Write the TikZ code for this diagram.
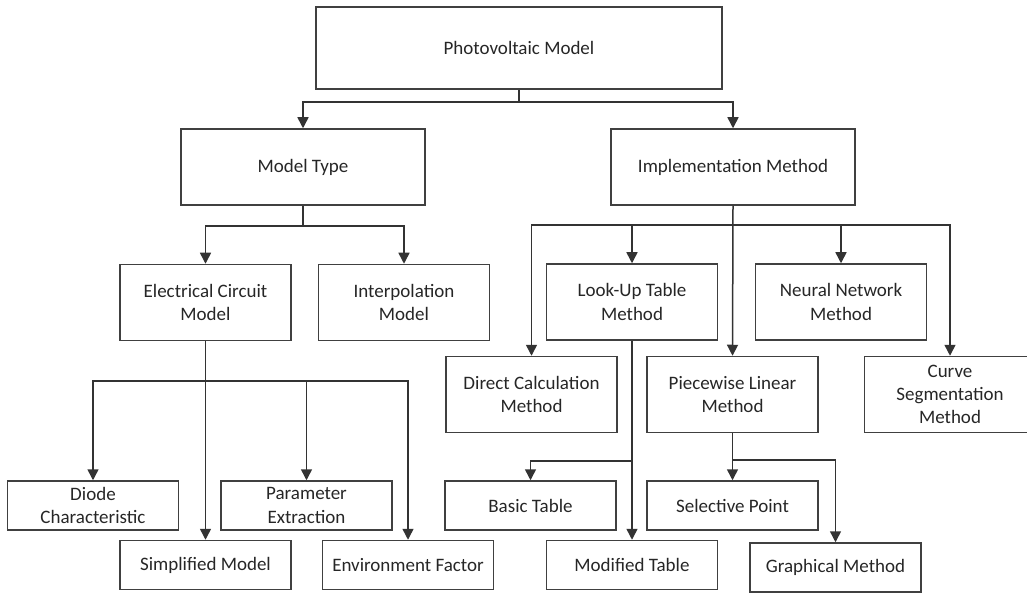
\documentclass[tikz,border=0pt]{standalone}
\usepackage{fontspec}
\setmainfont{Carlito}
\usetikzlibrary{arrows.meta}
\tikzset{
  box/.style={draw=black!75, line width=0.75pt, text=black!85, align=center, inner sep=0pt,
    minimum width=85.5pt, minimum height=38pt, font=\fontsize{9.5}{11.7}\selectfont},
  lowbox/.style={box, minimum height=24.5pt},
  link/.style={draw=black!80, line width=0.75pt, -{Triangle[width=5.5pt,length=5.5pt]}},
  bar/.style={draw=black!80, line width=0.75pt}
}
\begin{document}
\begin{tikzpicture}[x=0.5pt, y=-0.5pt]
    \useasboundingbox (0,0) rectangle (1027,593);
    \node[box, minimum width=203pt, minimum height=41pt] (pv) at (519,48) {Photovoltaic Model};
    \node[box, minimum width=122pt] (mtype) at (303,167) {Model Type};
    \node[box, minimum width=122pt] (impl) at (733,167) {Implementation Method};
    \node[box] (elec) at (205.5,302.5) {Electrical Circuit\\Model};
    \node[box] (interp) at (404,302.5) {Interpolation\\Model};
    \node[box] (lut) at (632,302) {Look-Up Table\\Method};
    \node[box] (nn) at (841,302) {Neural Network\\Method};
    \node[box] (direct) at (531.5,394.5) {Direct Calculation\\Method};
    \node[box] (pw) at (732.5,394.5) {Piecewise Linear\\Method};
    \node[box] (curve) at (950,394.5) {Curve\\Segmentation\\Method};
    \node[lowbox] (diode) at (93,505.5) {Diode\\Characteristic};
    \node[lowbox] (param) at (306.5,505.5) {Parameter\\Extraction};
    \node[lowbox] (simp) at (205.5,565) {Simplified Model};
    \node[lowbox] (env) at (408,565) {Environment Factor};
    \node[lowbox] (basic) at (530.5,505.5) {Basic Table};
    \node[lowbox] (mod) at (632,565) {Modified Table};
    \node[lowbox] (sel) at (732.5,505.5) {Selective Point};
    \node[lowbox] (graph) at (835.5,567.5) {Graphical Method};
    \coordinate (pvbus) at (0,102);
    \coordinate (mbus) at (0,226);
    \coordinate (ibus) at (0,225);
    \coordinate (ebus) at (0,381);
    \coordinate (lbus) at (0,461);
    \coordinate (wbus) at (0,460);
    \draw[bar] (pv.south) -- (pv.south |- pvbus);
    \foreach \n in {mtype,impl}
      \draw[link] (pv.south |- pvbus) -| (\n.north);
    \draw[bar] (mtype.south) -- (mtype.south |- mbus);
    \foreach \n in {elec,interp}
      \draw[link] (mtype.south |- mbus) -| (\n.north);
    \draw[link] (impl.south) -- (pw.north);
    \foreach \n in {direct,lut,nn,curve}
      \draw[link] (impl.south |- ibus) -| (\n.north);
    \draw[link] (elec.south) -- (simp.north);
    \foreach \n in {diode,param,env}
      \draw[link] (elec.south |- ebus) -| (\n.north);
    \draw[link] (lut.south) -- (mod.north);
    \draw[link] (lut.south |- lbus) -| (basic.north);
    \draw[link] (pw.south) -- (sel.north);
    \draw[link] (pw.south |- wbus) -| (graph.north);
\end{tikzpicture}
\end{document}
